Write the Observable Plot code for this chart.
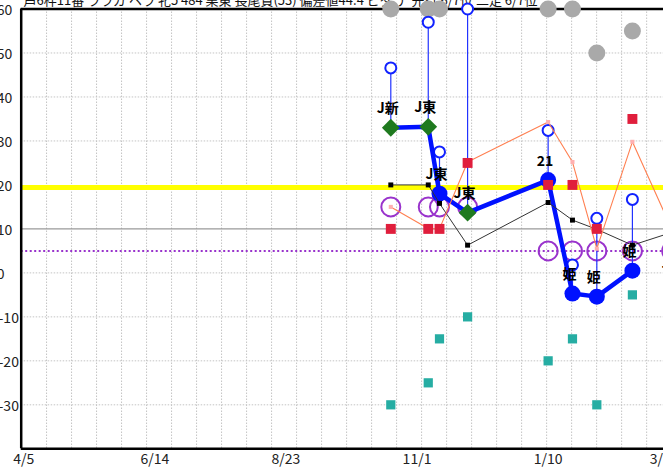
<!DOCTYPE html>
<html><head><meta charset="utf-8">
<script src="https://cdn.jsdelivr.net/npm/d3@7"></script>
<script src="https://cdn.jsdelivr.net/npm/@observablehq/plot@0.6"></script>
<style>
html,body{margin:0;padding:0;background:#fff;overflow:hidden}
#wrap{position:relative;width:663px;height:473px;overflow:hidden;background:#fff}
#chart svg{overflow:visible;display:block}
</style></head><body>
<div id="wrap"><div id="chart"></div></div>
<script>
// ---- data ----
const titleText = "芦6枠11番 ララガ ベラ 牝5 484 栗東 長尾貫(53) 偏差値44.4 ビダ デ 先行 6/7位 二走 6/7位";
const raceDates   = ["2015-10-18","2015-11-07","2015-11-13","2015-11-28","2016-01-10","2016-01-23","2016-02-05","2016-02-24","2016-03-16"];
const raceMarks   = ["diamond","diamond","circle","diamond","circle","circle","circle","circle",null];
const mainValues  = [33.0, 33.2, 18.0, 13.7, 21.1, -4.7, -5.4, 0.5, null];
const maxValues   = [46.6, 57.0, 27.5, 60.0, 32.4, 1.8, 12.4, 16.7, null];
const purpleValues= [15, 15, 15, 15, 5, 5, 5, 5, 5];
const blackValues = [20, 20, 15.8, 6.3, 16.0, 12.0, 9.9, 6.3, 9.2];
const pinkValues  = [15, 10.1, 10, 25.2, 34.3, 25.2, 5.5, 29.8, 10];
const redValues   = [10, 10, 10, 25, 20, 20, 10, 35, null];
const tealValues  = [-30, -25, -15, -10, -20, -15, -30, -5, null];
const grayValues  = [60, 60, 60, null, 60, 60, 50, 55, null];
const raceLabels  = ["J新","J東","J東","J東","21","姫","姫","姫","一"];
const labelValues = [33.0, 33.2, 18.0, 13.7, 21.1, -4.7, -5.4, 0.5, -3.2];
const yellowLevel = 19.4;
const purpleLevel = 5;
const yTicks      = [60, 50, 40, 30, 20, 10, 0, -10, -20, -30];
const yTickLabels = ["60","50","40","30","20","10","0","-10","-20","-30"];
const yGrid       = [50, 40, 30, 0, -10, -20, -30];
const xTickDates  = ["2015-04-05","2015-06-14","2015-08-23","2015-11-01","2016-01-10","2016-03-12"];
const xTickLabels = ["4/5","6/14","8/23","11/1","1/10","3/12"];

// ---- build ----
const parse = d3.utcParse("%Y-%m-%d");
const races = raceDates.map((d, i) => ({
  date: parse(d), mark: raceMarks[i], main: mainValues[i], max: maxValues[i],
  purple: purpleValues[i], black: blackValues[i], pink: pinkValues[i],
  red: redValues[i], teal: tealValues[i], gray: grayValues[i],
  label: raceLabels[i], labelY: labelValues[i]
}));
const DAY = 864e5;
const base = Date.UTC(2015, 3, 5);
const xDomain = [new Date(base - 1.335 * DAY), new Date(base + 341.6 * DAY)];
const gridDates = d3.range(0, 27).map(k => new Date(base + (12.2 + 13.35 * k) * DAY));
const xTicks = xTickDates.map((d, i) => ({date: parse(d), label: xTickLabels[i]}));
const yT = yTicks.map((v, i) => ({v, label: yTickLabels[i]}));
const has = k => races.filter(r => r[k] != null);

const font = "'Noto Sans CJK JP', 'Noto Sans', sans-serif";
const chart = Plot.plot({
  width: 663, height: 473,
  marginLeft: 20.7, marginRight: 0, marginTop: 8.5, marginBottom: 24.7,
  x: {type: "utc", domain: xDomain, axis: null},
  y: {domain: [-40, 60], axis: null},
  style: {fontFamily: font, fontSize: "14px", background: "transparent", overflow: "visible"},
  marks: [
    Plot.text([titleText], {frameAnchor: "top-left", textAnchor: "start", lineAnchor: "middle", dx: 2.3, dy: -8.5, fontSize: 13, fill: "#111"}),
    Plot.ruleX(gridDates, {stroke: "#c4c4c4", strokeDasharray: "1.5,1.5"}),
    Plot.ruleY(yGrid, {stroke: "#c4c4c4", strokeDasharray: "1.5,1.5"}),
    Plot.ruleY([10], {stroke: "#9a9a9a", strokeWidth: 1.3}),
    Plot.ruleY([yellowLevel], {stroke: "#ffff00", strokeWidth: 5}),
    Plot.ruleY([purpleLevel], {stroke: "#9933cc", strokeWidth: 2, strokeDasharray: "2,2.5"}),
    Plot.ruleY([60, -40], {stroke: "#000", strokeWidth: 2.5}),
    Plot.ruleX([xDomain[0]], {stroke: "#000", strokeWidth: 2.5}),
    Plot.dot(has("gray"), {x: "date", y: "gray", r: 8.5, fill: "#a9a9a9"}),
    Plot.dot(has("teal"), {x: "date", y: "teal", symbol: "square", r: 5.2, fill: "#26ada3"}),
    Plot.dot(has("purple"), {x: "date", y: "purple", r: 9.5, stroke: "#9933cc", strokeWidth: 2, fill: "none"}),
    Plot.ruleX(has("max"), {x: "date", y1: "main", y2: "max", stroke: "#2233ff", strokeWidth: 1.2}),
    Plot.dot(has("max"), {x: "date", y: "max", r: 5.5, stroke: "#1122ff", strokeWidth: 2, fill: "white"}),
    Plot.line(has("main"), {x: "date", y: "main", stroke: "#0011ff", strokeWidth: 4.5}),
    Plot.dot(races.filter(r => r.mark === "circle"), {x: "date", y: "main", r: 8, fill: "#0011ff"}),
    Plot.dot(races.filter(r => r.mark === "diamond"), {x: "date", y: "main", symbol: "diamond2", r: 8, fill: "#1f7a1f"}),
    Plot.line(has("black"), {x: "date", y: "black", stroke: "#333", strokeWidth: 1}),
    Plot.dot(has("black"), {x: "date", y: "black", symbol: "square", r: 2.8, fill: "#000"}),
    Plot.line(has("pink"), {x: "date", y: "pink", stroke: "#ff7f50", strokeWidth: 1.1}),
    Plot.dot(has("pink"), {x: "date", y: "pink", symbol: "square", r: 2.3, fill: "#ffb0b0"}),
    Plot.dot(has("red"), {x: "date", y: "red", symbol: "square", r: 5.6, fill: "#e01e3c"}),
    Plot.text(races, {x: "date", y: "labelY", text: "label", dx: -3, dy: -19, fontWeight: "bold", fontSize: 14, fill: "#000"}),
    Plot.text(yT.filter(d => d.v >= 0), {y: "v", text: "label", frameAnchor: "left", textAnchor: "start", dx: -24.5, dy: 2, fontSize: 14, fill: "#222"}),
    Plot.text(yT.filter(d => d.v < 0), {y: "v", text: "label", frameAnchor: "left", textAnchor: "start", dx: -22.7, dy: 2, fontSize: 14, fill: "#222"}),
    Plot.text(xTicks, {x: "date", text: "label", frameAnchor: "bottom", dy: 15, fontSize: 14, fill: "#222"})
  ]
});
document.getElementById("chart").appendChild(chart);
</script></body></html>
